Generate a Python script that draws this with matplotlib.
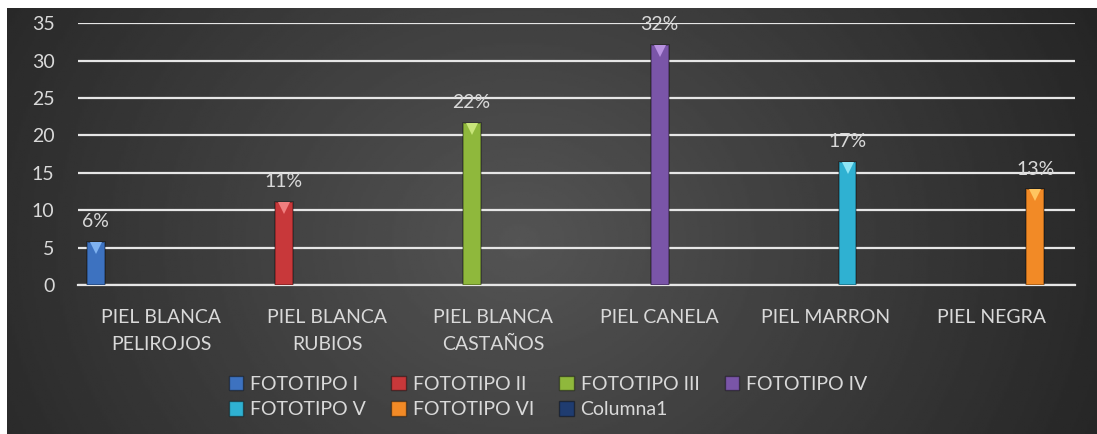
import numpy as np
import matplotlib.pyplot as plt
from matplotlib.patches import Patch

plt.rcParams['font.family'] = ['Lato', 'DejaVu Sans']

categories = ["PIEL BLANCA\nPELIROJOS", "PIEL BLANCA\nRUBIOS", "PIEL BLANCA\nCASTAÑOS",
              "PIEL CANELA", "PIEL MARRON", "PIEL NEGRA"]
series = ["FOTOTIPO I", "FOTOTIPO II", "FOTOTIPO III", "FOTOTIPO IV",
          "FOTOTIPO V", "FOTOTIPO VI", "Columna1"]
# one non-zero value per category (Columna1 is empty)
values = [5.8, 11.1, 21.7, 32.1, 16.5, 12.8]
pct_labels = ["6%", "11%", "22%", "32%", "17%", "13%"]
colors = ["#3d72c0", "#c8383a", "#8fb83c", "#7a55a8", "#2fb1d2", "#f28a26", "#1f3c70"]
tops = ["#7fb2f0", "#f07f7f", "#c8e57a", "#b892e0", "#8fe6f5", "#ffc560", "#4a6fb0"]

fig = plt.figure(figsize=(10.97, 4.34), dpi=100)
fig.patch.set_facecolor("white")

# dark radial-ish gradient background
bg = fig.add_axes([7 / 1097, 0, 1 - 7 / 1097, 426 / 434])
bg.set_axis_off()
yy, xx = np.mgrid[0:1:200j, 0:1:500j]
r = np.sqrt(((xx - 0.47) / 0.6) ** 2 + ((yy - 0.55) / 1.3) ** 2)
r = np.clip(r, 0, 1)
shade = 0.33 - 0.19 * r
bg.imshow(shade, cmap="gray", vmin=0, vmax=1, aspect="auto", extent=[0, 1, 0, 1])

ax = fig.add_axes([78 / 1097, 1 - 285 / 434, (1075 - 78) / 1097, (285 - 23.3) / 434])
ax.patch.set_alpha(0)

x = np.arange(len(categories))
step = 0.131
width = 0.108
n = len(series)
for i, v in enumerate(values):
    pos = x[i] + (i - (n - 1) / 2) * step
    ax.bar(pos, v, width=width, color=colors[i], edgecolor="#00000055", linewidth=1.2, zorder=3)
    ax.plot(pos, v - 0.8, marker="v", markersize=8, color=tops[i], markeredgewidth=0, zorder=4)
    ax.annotate(pct_labels[i], (pos, v), xytext=(0, 10.5), textcoords="offset points",
                ha="center", va="baseline", color="#d9d9d9", fontsize=14, zorder=5)

ax.set_xlim(-0.5, len(categories) - 0.5)
ax.set_ylim(0, 35)
ax.set_yticks(np.arange(0, 36, 5))
ax.yaxis.grid(True, color="#e6e6e6", linewidth=1.6, zorder=1)
ax.set_axisbelow(True)
for s in ["top", "right", "left"]:
    ax.spines[s].set_visible(False)
ax.spines["bottom"].set_color("#e6e6e6")
ax.spines["bottom"].set_linewidth(1.6)
ax.set_xticks(x)
ax.set_xticklabels(categories, linespacing=1.75)
ax.tick_params(axis="both", length=0, colors="#d9d9d9", labelsize=14)
ax.tick_params(axis="y", pad=17)
ax.tick_params(axis="x", pad=17)

handles = [Patch(facecolor=c, edgecolor="#00000066", label=s) for s, c in zip(series, colors)]
order = [0, 4, 1, 5, 2, 6, 3]
leg = fig.legend([handles[k] for k in order], [series[k] for k in order], ncol=4,
                 loc="center", bbox_to_anchor=(548 / 1097, 1 - 397 / 434), frameon=False,
                 fontsize=14, labelcolor="#d9d9d9", handlelength=0.75, handleheight=0.75,
                 handletextpad=0.35, columnspacing=1.3, labelspacing=0.45)

fig.savefig("out.png", dpi=100)
